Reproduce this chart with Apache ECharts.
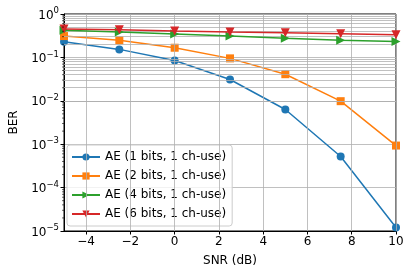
<!DOCTYPE html>
<html><head><meta charset="utf-8">
<script src="https://cdn.jsdelivr.net/npm/echarts@6/dist/echarts.min.js"></script>
<style>html,body{margin:0;padding:0;background:#fff}#c{width:409px;height:275px}</style>
</head><body><div id="c"></div>
<script>
const snr = [-5, -2.5, 0, 2.5, 5, 7.5, 10];
const ber1 = [0.23, 0.153, 0.085, 0.031, 0.0063, 5.2e-4, 1.2e-5];
const ber2 = [0.31, 0.247, 0.167, 0.095, 0.041, 0.0098, 9.3e-4];
const ber4 = [0.42, 0.384, 0.346, 0.31, 0.275, 0.247, 0.234];
const ber6 = [0.45, 0.435, 0.407, 0.384, 0.37, 0.351, 0.333];
const names = ['AE (1 bits, 1 ch-use)', 'AE (2 bits, 1 ch-use)', 'AE (4 bits, 1 ch-use)', 'AE (6 bits, 1 ch-use)'];
const xTicks = [-4, -2, 0, 2, 4, 6, 8, 10];
const yMinor = [];
for (let e = -5; e <= -1; e++) for (let k = 2; k <= 9; k++) yMinor.push(k * Math.pow(10, e));

const colors = ['#1f77b4', '#ff7f0e', '#2ca02c', '#d62728'];
const symbols = ['circle', 'rect', 'triangle', 'triangle'];
const rot = [0, 0, -90, 180];
const sizes = [8, 8, 9, 9];
const datas = [ber1, ber2, ber4, ber6];
const font = 'DejaVu Sans';

const series = datas.map((d, i) => ({
  name: names[i], type: 'line', data: snr.map((x, j) => [x, d[j]]),
  symbol: symbols[i], symbolRotate: rot[i], symbolSize: sizes[i],
  showAllSymbol: true, z: 3 + i,
  lineStyle: {color: colors[i], width: 1.5}, itemStyle: {color: colors[i]}
}));
series.unshift({
  type: 'line', data: [[0, 0.5]], z: 1, silent: true, symbol: 'none', lineStyle: {opacity: 0},
  markLine: {
    silent: true, symbol: 'none', label: {show: false}, animation: false,
    lineStyle: {color: '#b0b0b0', width: 0.8, type: 'solid'},
    data: yMinor.map(v => ({yAxis: v})).concat(xTicks.map(v => [{coord: [v, 1e-5]}, {coord: [v, 1]}]))
  }
});
series.push({
  type: 'custom', silent: true, clip: false, z: 10,
  data: yMinor.map(v => [-5, v]),
  renderItem: (params, api) => {
    const p = api.coord([api.value(0), api.value(1)]);
    return {type: 'line', shape: {x1: p[0] - 2, y1: p[1], x2: p[0], y2: p[1]},
      style: {stroke: '#000', lineWidth: 0.6}};
  }
});

const chart = echarts.init(document.getElementById('c'), null, {renderer: 'canvas'});
chart.setOption({
  animation: false,
  textStyle: {fontFamily: font},
  grid: {left: 61, right: 13, top: 14, bottom: 44, show: true, borderColor: '#000', borderWidth: 1, backgroundColor: 'transparent'},
  xAxis: {
    type: 'value', min: -5, max: 10,
    name: 'SNR (dB)', nameLocation: 'middle', nameGap: 24,
    nameTextStyle: {color: '#000', fontSize: 12, fontFamily: font},
    axisLine: {show: true, onZero: false, lineStyle: {color: '#000', width: 1}},
    axisTick: {show: true, length: 3.5, customValues: xTicks, lineStyle: {color: '#000'}},
    axisLabel: {customValues: xTicks, color: '#000', fontSize: 12, fontFamily: font, margin: 5,
      formatter: v => String(v).replace('-', '\u2212')},
    splitLine: {show: false}
  },
  yAxis: {
    type: 'log', logBase: 10, min: 1e-5, max: 1, interval: 1,
    name: 'BER', nameLocation: 'middle', nameGap: 44,
    nameTextStyle: {color: '#000', fontSize: 12, fontFamily: font},
    axisLine: {show: true, onZero: false, lineStyle: {color: '#000', width: 1}},
    axisTick: {show: true, length: 3.5, lineStyle: {color: '#000'}},
    axisLabel: {color: '#000', margin: 5, fontFamily: font,
      formatter: v => {
        const e = Math.round(Math.log10(v));
        return '{b|10}{s|' + String(e).replace('-', '\u2212') + '}';
      },
      rich: {
        b: {fontSize: 12, fontFamily: font, color: '#000', verticalAlign: 'bottom', lineHeight: 15},
        s: {fontSize: 8.5, fontFamily: font, color: '#000', verticalAlign: 'top', lineHeight: 15}
      }
    },
    splitLine: {show: true, lineStyle: {color: '#b0b0b0', width: 0.8}}
  },
  legend: {
    orient: 'vertical', left: 67, top: 145,
    data: names,
    itemWidth: 28, itemHeight: 9, itemGap: 5,
    padding: [5, 6, 5, 4],
    backgroundColor: 'rgba(255,255,255,0.8)', borderColor: '#cccccc', borderWidth: 1, borderRadius: 3,
    textStyle: {color: '#000', fontSize: 12, fontFamily: font, lineHeight: 14}
  },
  series: series
});
</script></body></html>
